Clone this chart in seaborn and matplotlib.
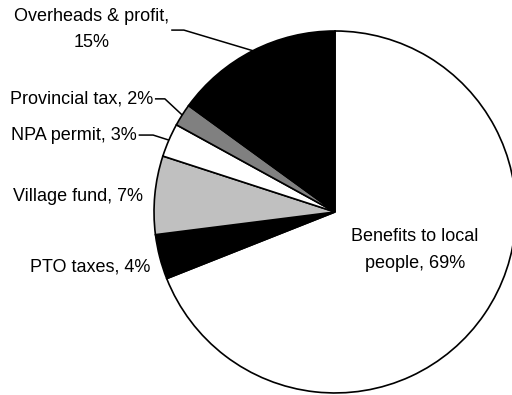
import numpy as np
import matplotlib
matplotlib.use("Agg")
import matplotlib.pyplot as plt
import seaborn as sns

# Shares of the revenue, clockwise from 12 o'clock
categories = ["Benefits to local people", "PTO taxes", "Village fund",
              "NPA permit", "Provincial tax", "Overheads & profit"]
shares = [69, 4, 7, 3, 2, 15]
labels = ["Benefits to local\npeople, 69%", "PTO taxes, 4%", "Village fund, 7%",
          "NPA permit, 3%", "Provincial tax, 2%", "Overheads & profit,\n15%"]
colors = ["#FFFFFF", "#000000", "#C0C0C0", "#FFFFFF", "#808080", "#000000"]

sns.set_theme(style="white")
plt.rcParams["font.family"] = ["Liberation Sans", "DejaVu Sans"]
plt.rcParams["text.color"] = "black"

fig = plt.figure(figsize=(5.12, 3.95), dpi=100)
ax = fig.add_axes([0, 0, 1, 1])

wedges, _ = ax.pie(shares, colors=colors, startangle=90, counterclock=False,
                   radius=1.0, center=(0, 0),
                   wedgeprops=dict(edgecolor="black", linewidth=1.2))

ax.set_aspect("equal")
ax.set_xlim(-1.851, 0.978)
ax.set_ylim(-1.011, 1.171)
ax.axis("off")

fs = 13


def mid_point(i, r=1.0):
    w = wedges[i]
    ang = np.deg2rad((w.theta1 + w.theta2) / 2)
    return r * np.cos(ang), r * np.sin(ang)


# Inside label for the large slice
ax.text(0.44, -0.21, labels[0], ha="center", va="center", fontsize=fs,
        linespacing=1.7)

# Labels beside the smaller slices
ax.text(-1.02, -0.305, labels[1], ha="right", va="center", fontsize=fs)
ax.text(-1.06, 0.085, labels[2], ha="right", va="center", fontsize=fs)

# Labels with leader lines
leader = {
    3: ((-1.085, 0.425), (-1.005, 0.425)),
    4: ((-0.995, 0.625), (-0.94, 0.625)),
    5: ((-0.905, 1.005), (-0.835, 1.005)),
}
ax.text(-1.095, 0.425, labels[3], ha="right", va="center", fontsize=fs)
ax.text(-1.005, 0.625, labels[4], ha="right", va="center", fontsize=fs)
ax.text(-1.343, 1.008, labels[5], ha="center", va="center", fontsize=fs,
        linespacing=1.7)

for i, (p0, p1) in leader.items():
    px, py = mid_point(i)
    ax.plot([p0[0], p1[0], px], [p0[1], p1[1], py], color="black",
            linewidth=1.1, solid_capstyle="butt")

fig.savefig("out.png", dpi=100)
